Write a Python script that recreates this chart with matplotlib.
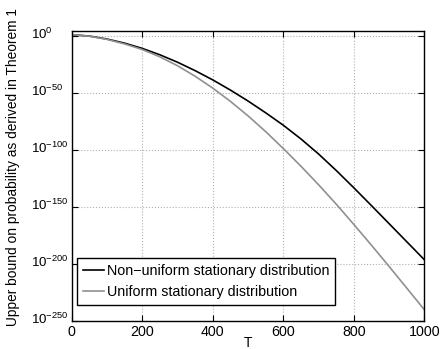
import numpy as np
import matplotlib
matplotlib.use("Agg")
import matplotlib.pyplot as plt
from matplotlib.ticker import FixedLocator, FuncFormatter, NullLocator
from matplotlib.transforms import ScaledTranslation

plt.rcParams['font.family'] = ['Liberation Sans', 'DejaVu Sans']
plt.rcParams['mathtext.default'] = 'regular'

# T values and log10 of the bound
T = [0, 50, 100, 150, 200, 250, 300, 350, 400, 450, 500,
     550, 600, 650, 700, 750, 800, 850, 900, 950, 1000]
log_nonuniform = [0.8, -0.4, -3.0, -6.6, -11.2, -16.8, -23.3, -30.7, -38.8, -47.7, -57.3,
                  -67.6, -78.5, -90.5, -103.7, -118.1, -133.3, -148.9, -164.7, -180.5, -196.3]
log_uniform = [0.8, -0.5, -3.3, -7.3, -12.2, -18.6, -26.4, -35.6, -46.0, -57.6, -70.3,
               -84.1, -98.9, -114.4, -130.6, -147.6, -165.4, -183.6, -202.2, -221.1, -240.1]

labels = ['Non\u2212uniform stationary distribution', 'Uniform stationary distribution']
yticks_exp = [0, -50, -100, -150, -200, -250]
xticks = [0, 200, 400, 600, 800, 1000]

fig = plt.figure(figsize=(4.43, 3.49), dpi=100)
ax = fig.add_axes([0.162, 0.080, 0.796, 0.831])

ax.semilogy(T, 10.0 ** np.array(log_nonuniform), color='black', lw=1.2, label=labels[0])
ax.semilogy(T, 10.0 ** np.array(log_uniform), color='#909090', lw=1.2, label=labels[1])

ax.set_xlim(0, 1000)
ax.set_ylim(1e-250, 1e4)
ax.set_xticks(xticks)
ax.yaxis.set_major_locator(FixedLocator([10.0 ** e for e in yticks_exp]))
ax.yaxis.set_minor_locator(NullLocator())
ax.yaxis.set_major_formatter(FuncFormatter(
    lambda v, p: r'$10^{%d}$' % int(round(np.log10(v))) if v > 0 else ''))

ax.grid(True, linestyle=':', color='#b0b0b0', lw=0.8)
ax.tick_params(direction='in', top=True, right=True, labelsize=10.3, length=4)
ax.tick_params(axis='x', pad=3)
# MATLAB style: the "10" bases are left aligned
ax.tick_params(axis='y', pad=29.7, labelsize=9.6)
shift = ScaledTranslation(0, 2.0 / 72, fig.dpi_scale_trans)
for t in ax.yaxis.get_major_ticks():
    t.label1.set_horizontalalignment('left')
    t.label1.set_transform(t.label1.get_transform() + shift)
for s in ax.spines.values():
    s.set_linewidth(1.0)

ax.set_xlabel('T', fontsize=10, labelpad=-2)
ax.set_ylabel('Upper bound on probability as derived in Theorem 1', fontsize=9.9)
ax.yaxis.set_label_coords(-0.148, 0.531)

leg = ax.legend(loc='lower left', bbox_to_anchor=(0.015, 0.055), borderaxespad=0,
                fontsize=10.3, fancybox=False, framealpha=1, edgecolor='black',
                handlelength=1.5, handletextpad=0.2, labelspacing=0.55)
leg.get_frame().set_linewidth(1.0)

fig.savefig('out.png', dpi=100)
